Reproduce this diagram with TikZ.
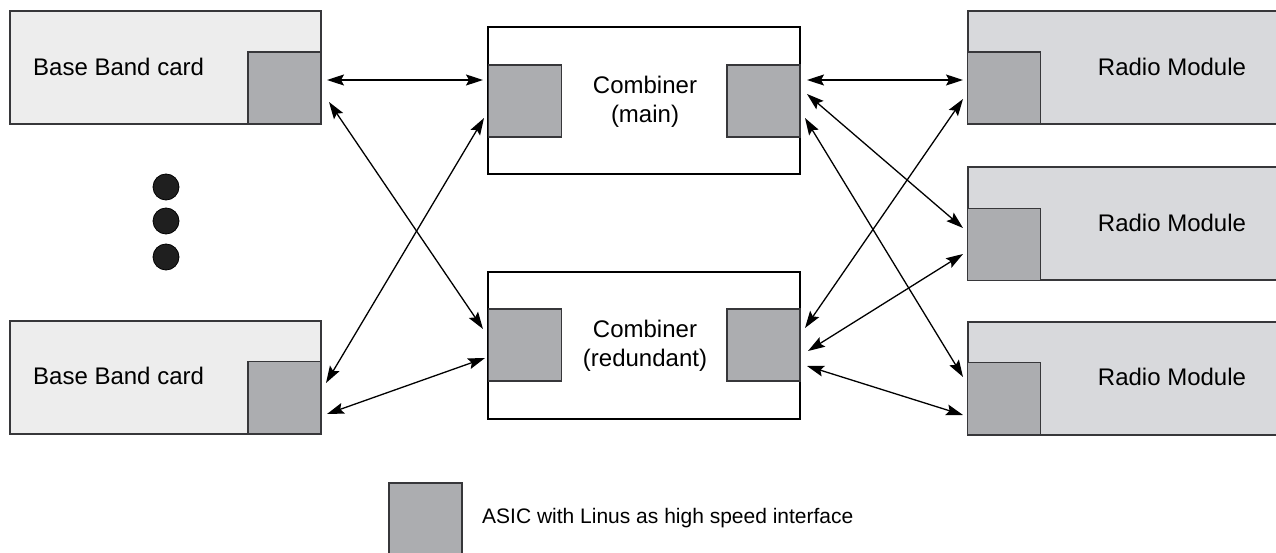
\documentclass[tikz,border=0pt]{standalone}
\usepackage{fontspec}
\setmainfont{Liberation Sans}
\usetikzlibrary{arrows.meta}
\definecolor{bbfill}{RGB}{237,237,237}
\definecolor{rmfill}{RGB}{216,217,220}
\definecolor{asicfill}{RGB}{172,173,176}
\definecolor{edge}{RGB}{55,55,58}
\tikzset{
  card/.style={draw=edge, line width=1.6pt, rectangle, inner sep=0pt, outer sep=0pt, anchor=north west, minimum width=311pt, minimum height=113pt},
  bbcard/.style={card, fill=bbfill},
  rmcard/.style={card, fill=rmfill, minimum width=320pt},
  combbox/.style={draw=black, line width=2.8pt, fill=white, rectangle, inner sep=0pt, outer sep=0pt, anchor=north west, minimum width=312pt, minimum height=147pt},
  asic/.style={draw=edge, line width=1.6pt, fill=asicfill, rectangle, inner sep=0pt, outer sep=0pt, minimum width=73pt, minimum height=72pt},
  lbl/.style={font=\fontsize{24}{29}\selectfont, inner sep=0pt, align=center},
  dot/.style={circle, fill=black!88, draw=black, line width=0.8pt, minimum size=26pt, inner sep=0pt},
  link/.style={line width=1.3pt, black, {Stealth[length=17pt,width=11pt,inset=3pt]}-{Stealth[length=17pt,width=11pt,inset=3pt]}}
}
\begin{document}
\begin{tikzpicture}[x=1pt,y=-1pt]
\useasboundingbox (0,0) rectangle (1276,553);
% base band cards
\node[bbcard] (bb1) at (10,11) {};
\node[asic] (bb1a) at (284.5,88) {};
\node[lbl, anchor=west] (bb1t) at (33,67) {Base Band card};
\node[bbcard] (bb2) at (10,321) {};
\node[asic] (bb2a) at (284.5,397.5) {};
\node[lbl, anchor=west] (bb2t) at (33,376) {Base Band card};
% dots
\node[dot] (d1) at (166,187) {};
\node[dot] (d2) at (166,221) {};
\node[dot] (d3) at (166,257) {};
% combiners
\node[combbox] (cm) at (488,27) {};
\node[asic] (cml) at (525,101) {};
\node[asic] (cmr) at (763.5,101) {};
\node[lbl] (cmt) at (645,102) {Combiner\\(main)};
\node[combbox] (cr) at (488,272) {};
\node[asic] (crl) at (525,345) {};
\node[asic] (crr) at (763.5,345) {};
\node[lbl] (crt) at (645,346) {Combiner\\(redundant)};
% radio modules
\node[rmcard] (rm1) at (968,11) {};
\node[asic] (rm1a) at (1004,88) {};
\node[lbl] (rm1t) at (1172,67) {Radio Module};
\node[rmcard] (rm2) at (968,167) {};
\node[asic] (rm2a) at (1004,244.5) {};
\node[lbl] (rm2t) at (1172,223) {Radio Module};
\node[rmcard] (rm3) at (968,322) {};
\node[asic] (rm3a) at (1004,398.5) {};
\node[lbl] (rm3t) at (1172,377) {Radio Module};
% connectors
\draw[link] ([shift={(42.5,-8)}]bb1a.center) -- ([shift={(-42,-21)}]cml.center);
\draw[link] ([shift={(44.5,14)}]bb1a.center) -- ([shift={(-42,-16)}]crl.center);
\draw[link] ([shift={(41.5,-14.5)}]bb2a.center) -- ([shift={(-41,17)}]cml.center);
\draw[link] ([shift={(42.5,16.5)}]bb2a.center) -- ([shift={(-40,13)}]crl.center);
\draw[link] ([shift={(43.5,-21)}]cmr.center) -- ([shift={(-41,-8)}]rm1a.center);
\draw[link] ([shift={(43.5,-7)}]cmr.center) -- ([shift={(-41,-16.5)}]rm2a.center);
\draw[link] ([shift={(41.5,17)}]cmr.center) -- ([shift={(-41,-21.5)}]rm3a.center);
\draw[link] ([shift={(-41,11)}]rm1a.center) -- ([shift={(41.5,-17)}]crr.center);
\draw[link] ([shift={(-41,9.5)}]rm2a.center) -- ([shift={(44.5,6)}]crr.center);
\draw[link] ([shift={(43.5,21)}]crr.center) -- ([shift={(-41,16.5)}]rm3a.center);
% legend
\node[asic, anchor=north west, minimum height=71pt] (lega) at (389,483) {};
\node[lbl, anchor=west, font=\fontsize{21}{25}\selectfont] (legt) at (482,518) {ASIC with Linus as high speed interface};
\end{tikzpicture}
\end{document}
